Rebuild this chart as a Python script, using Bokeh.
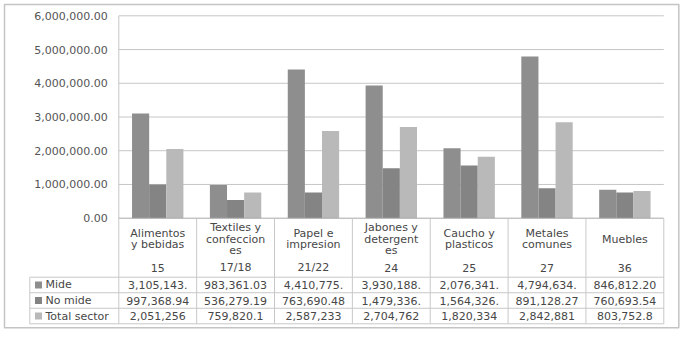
import numpy as np
from bokeh.plotting import figure
from bokeh.models import Range1d, LinearAxis, FixedTicker, NumeralTickFormatter
from bokeh.core.properties import value
from bokeh.embed import file_html
from bokeh.resources import INLINE

# ---------------- data ----------------
categories = ["Alimentos\ny bebidas", "Textiles y\nconfeccion\nes", "Papel e\nimpresion",
              "Jabones y\ndetergent\nes", "Caucho y\nplasticos", "Metales\ncomunes", "Muebles"]
codes = ["15", "17/18", "21/22", "24", "25", "27", "36"]
series_names = ["Mide", "No mide", "Total sector"]
mide = [3105143.0, 983361.03, 4410775.0, 3930188.0, 2076341.0, 4794634.0, 846812.20]
no_mide = [997368.94, 536279.19, 763690.48, 1479336.0, 1564326.0, 891128.27, 760693.54]
total_sector = [2051256.0, 759820.1, 2587233.0, 2704762.0, 1820334.0, 2842881.0, 803752.8]
y_ticks = [0, 1000000, 2000000, 3000000, 4000000, 5000000, 6000000]

series = [mide, no_mide, total_sector]
colors = ["#8e8e8e", "#848484", "#b9b9b9"]
cell_width = [10, 10, 9]   # characters shown in each table row (Excel truncation)

# ---------------- layout (pixels) ----------------
W, H = 687, 338
PL, PR = 118.3, 663.3          # plot area left / right
PY0, PYT = 217.7, 15.3         # pixel of y=0 and of top tick
TB, ROW = 323.3, 15.53         # table bottom, row height
LEG_L = 29.3                   # table legend column left edge
BL, BT, BR, BB = 4.0, 4.0, 678.3, 327.3   # outer border

n = len(categories)
cw = (PR - PL) / n

def X(px):
    return (px - PL) / cw

def T(py):
    return (TB - py) / ROW

ppu = (PY0 - PYT) / y_ticks[-1]

FONT = value("DejaVu Sans")
TXT = "#474747"

p = figure(width=W, height=H, output_backend="svg", toolbar_location=None,
           x_axis_type=None, y_axis_type=None, title=None,
           x_range=Range1d(X(0), X(W)),
           y_range=Range1d(-(H - PY0) / ppu, y_ticks[-1] + PYT / ppu),
           min_border=0, outline_line_color=None,
           background_fill_color="white", border_fill_color="white")
p.extra_y_ranges = {"tbl": Range1d(T(H), T(0))}

# outer border
p.quad(left=[X(BL)], right=[X(BR)], top=[T(BT)], bottom=[T(BB)], y_range_name="tbl",
       fill_color=None, line_color="#c4c4c4", line_width=1.5)

# gridlines
p.segment(x0=0, x1=n, y0=y_ticks[1:], y1=y_ticks[1:], line_color="#c6c6c6", line_width=1)
# plot-area left edge
p.segment(x0=[0], x1=[0], y0=[0], y1=[y_ticks[-1]], line_color="#c6c6c6", line_width=1)

# bars
centers = np.arange(n) + 0.5
bw = 0.22
offsets = [-bw, 0.0, bw]
for vals, off, col in zip(series, offsets, colors):
    p.vbar(x=centers + off, top=vals, bottom=0, width=bw,
           fill_color=col, line_color=None)

# axis line at y=0
p.segment(x0=[0], x1=[n], y0=[0], y1=[0], line_color="#a8a8a8", line_width=1)

# y axis (placed inside the frame at x=0)
ax = LinearAxis(fixed_location=0, ticker=FixedTicker(ticks=y_ticks),
                formatter=NumeralTickFormatter(format="0,0.00"))
ax.axis_line_color = None
ax.major_tick_line_color = None
ax.minor_tick_line_color = None
ax.major_tick_in = 0
ax.major_tick_out = 0
ax.major_label_standoff = 11
ax.major_label_text_font = "DejaVu Sans"
ax.major_label_text_font_size = "11px"
ax.major_label_text_color = "#555555"
p.add_layout(ax, "left")

# ---------------- data table ----------------
hdr_top = T(PY0)
ns = len(series)
LINE = "#c8c8c8"
# vertical lines of category columns
xs = list(range(n + 1))
p.segment(x0=xs, x1=xs, y0=0, y1=hdr_top, y_range_name="tbl", line_color=LINE, line_width=1)
# legend column left edge
p.segment(x0=[X(LEG_L)], x1=[X(LEG_L)], y0=[0], y1=[ns], y_range_name="tbl",
          line_color=LINE, line_width=1)
# horizontal lines
rows_y = list(range(ns + 1))
p.segment(x0=X(LEG_L), x1=n, y0=rows_y, y1=rows_y, y_range_name="tbl",
          line_color=LINE, line_width=1)

# category labels and codes
p.text(x=centers, y=T(238.7), text=categories, y_range_name="tbl",
       text_font=FONT, text_font_size="11px", text_color=TXT,
       text_align="center", text_baseline="middle", text_line_height=0.88)
p.text(x=centers, y=T(267.0), text=codes, y_range_name="tbl",
       text_font=FONT, text_font_size="11px", text_color=TXT,
       text_align="center", text_baseline="middle")

# legend cells + values
for k, (name, vals, col, wd) in enumerate(zip(series_names, series, colors, cell_width)):
    ry = ns - k - 0.5
    p.scatter(x=[X(38)], y=[ry], marker="square", size=7, fill_color=col,
              line_color=None, y_range_name="tbl")
    p.text(x=[X(45)], y=[ry], text=[name], y_range_name="tbl",
           text_font=FONT, text_font_size="11px", text_color=TXT,
           text_align="left", text_baseline="middle")
    cells = [f"{v:,.2f}"[:wd] for v in vals]
    p.text(x=centers, y=[ry] * n, text=cells, y_range_name="tbl",
           text_font=FONT, text_font_size="11px", text_color=TXT,
           text_align="center", text_baseline="middle")

open("out.html", "w").write(file_html(p, INLINE))
